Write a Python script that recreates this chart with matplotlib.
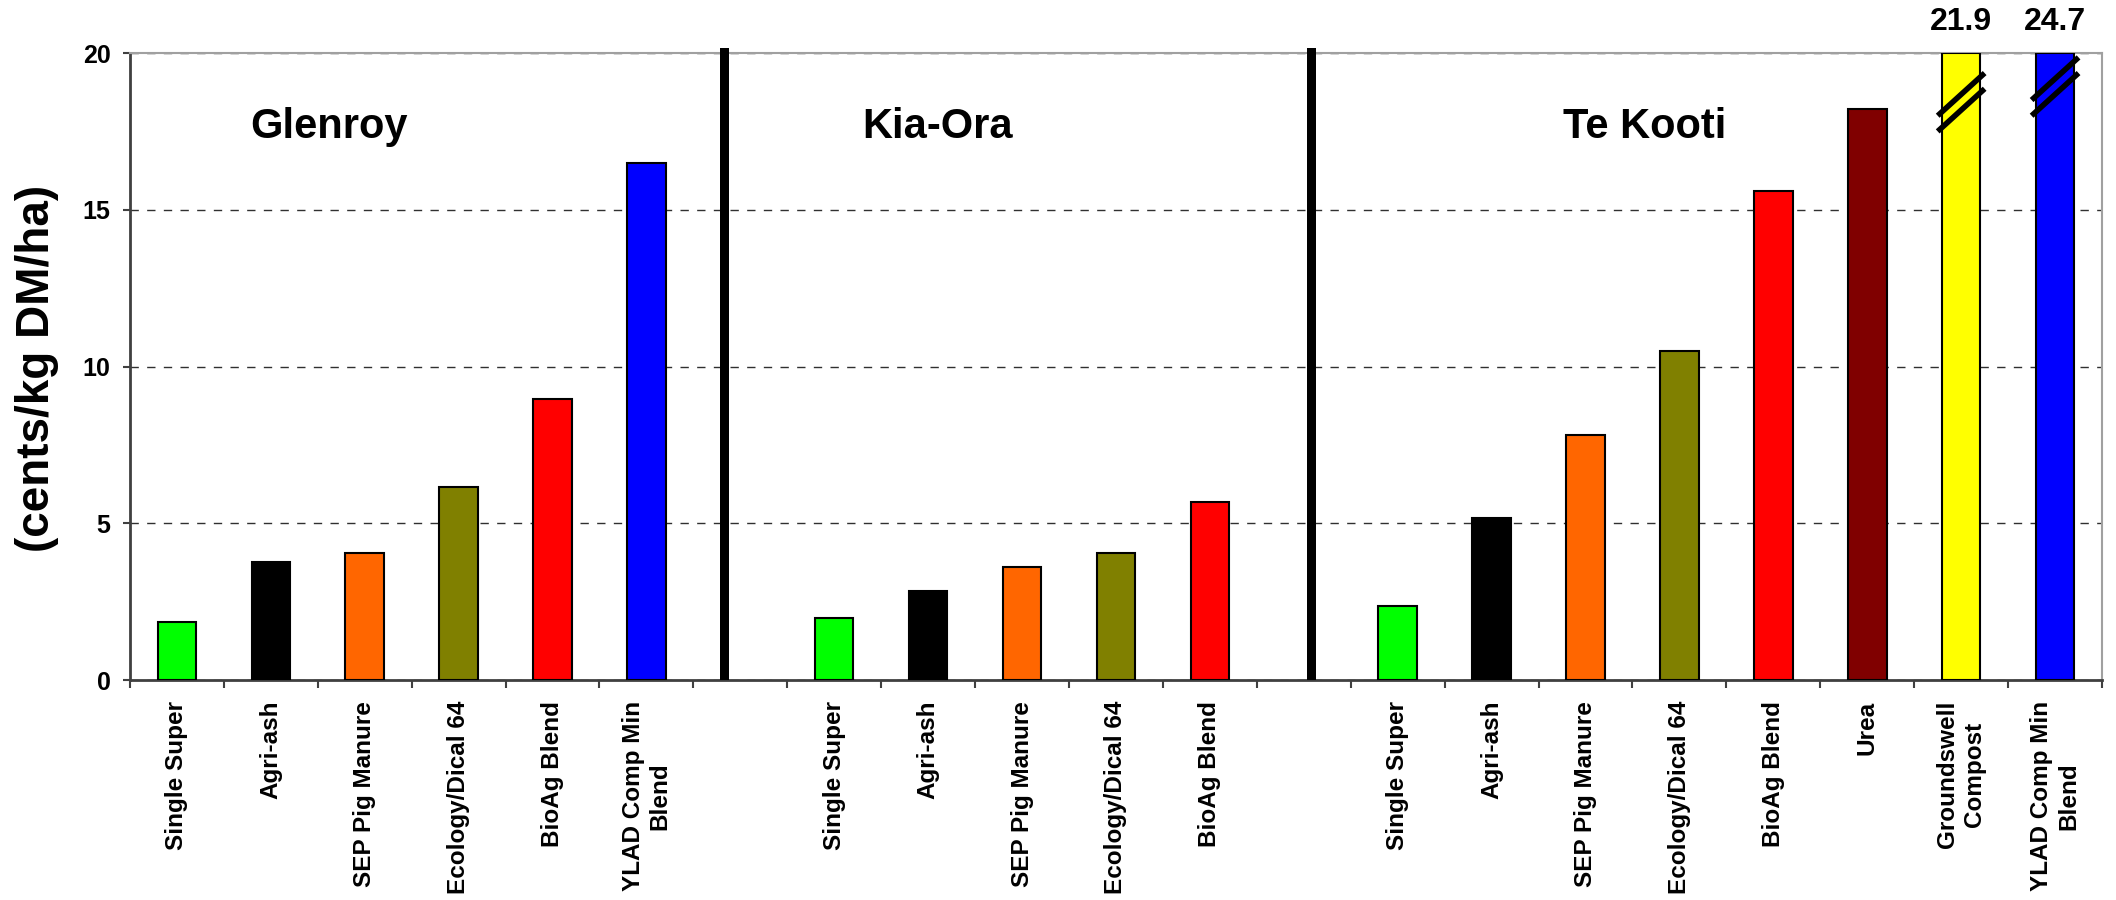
import numpy as np
import matplotlib.pyplot as plt

plt.rcParams['font.family'] = ['Liberation Sans', 'DejaVu Sans']
plt.rcParams['font.weight'] = 'bold'

# cost of dry matter response (cents/kg DM/ha) by site and fertiliser
sites = ['Glenroy', 'Kia-Ora', 'Te Kooti']

glenroy_products = ['Single Super', 'Agri-ash', 'SEP Pig Manure', 'Ecology/Dical 64',
                    'BioAg Blend', 'YLAD Comp Min\nBlend']
glenroy_cost = [1.85, 3.75, 4.05, 6.15, 8.95, 16.5]
glenroy_colours = ['#00FF00', '#000000', '#FF6600', '#808000', '#FF0000', '#0000FF']

kiaora_products = ['Single Super', 'Agri-ash', 'SEP Pig Manure', 'Ecology/Dical 64',
                   'BioAg Blend']
kiaora_cost = [1.98, 2.85, 3.62, 4.05, 5.68]
kiaora_colours = ['#00FF00', '#000000', '#FF6600', '#808000', '#FF0000']

tekooti_products = ['Single Super', 'Agri-ash', 'SEP Pig Manure', 'Ecology/Dical 64',
                    'BioAg Blend', 'Urea', 'Groundswell\nCompost', 'YLAD Comp Min\nBlend']
tekooti_cost = [2.35, 5.18, 7.8, 10.5, 15.6, 18.2, 21.9, 24.7]
tekooti_colours = ['#00FF00', '#000000', '#FF6600', '#808000', '#FF0000', '#800000',
                   '#FFFF00', '#0000FF']

YMAX = 20
title_x = [1.62, 8.1, 15.63]     # where the site names sit
sep_x = [5.83, 12.08]            # thick black dividers between sites
break_levels = [18.0, 18.5]      # where the // marks cross the clipped bars

# lay the three groups out side by side with one empty slot between them
labels, values, colours = [], [], []
groups = [(glenroy_products, glenroy_cost, glenroy_colours),
          (kiaora_products, kiaora_cost, kiaora_colours),
          (tekooti_products, tekooti_cost, tekooti_colours)]
for i, (p, v, c) in enumerate(groups):
    labels += p
    values += v
    colours += c
    if i < len(groups) - 1:
        labels.append('')
        values.append(np.nan)
        colours.append('none')
x = np.arange(len(labels))
values = np.array(values)

fig = plt.figure(figsize=(21.16, 9), dpi=100)
ax = fig.add_axes([0.0614, 0.2444, 0.932, 0.6967])

ax.set_axisbelow(True)
ax.yaxis.grid(True, linestyle=(0, (6, 6)), color='#303030', linewidth=1)

ax.bar(x, np.minimum(values, YMAX), width=0.41, color=colours, edgecolor='black', linewidth=1.5, zorder=3)

# dividers
ax.bar(sep_x, [YMAX + 0.15] * len(sep_x), width=0.09, color='black', clip_on=False, zorder=3)

# clipped bars: value above and a break mark
over = np.where(values > YMAX)[0]
for k, idx in enumerate(over):
    ax.text(x[idx], 21.0, f'{values[idx]:.1f}', ha='center', va='center', fontsize=23,
            clip_on=False)
    b = break_levels[k]
    for off in (0, -0.5):
        ax.plot([x[idx] - 0.25, x[idx] + 0.25], [b + off, b + off + 1.36], color='black',
                linewidth=4, solid_capstyle='butt', zorder=4, clip_on=False)

for name, tx in zip(sites, title_x):
    ax.text(tx, 17.65, name, ha='center', va='center', fontsize=30)

ax.set_xlim(-0.5, len(labels) - 0.5)
ax.set_ylim(0, YMAX)
ax.set_yticks([0, 5, 10, 15, 20])
ax.set_xticks(x)
ax.set_xticklabels(labels, rotation=90, fontsize=17.5, va='top', ha='center',
                   multialignment='center')
ax.set_xticks(np.arange(-0.5, len(labels)), minor=True)
ax.tick_params(axis='x', which='major', length=0, pad=15)
ax.tick_params(axis='x', which='minor', length=6, width=1.5, color='#404040')
ax.tick_params(axis='y', length=5, width=1.5, color='#404040', pad=9, labelsize=18)

for s in ['left', 'bottom']:
    ax.spines[s].set_color('#404040')
    ax.spines[s].set_linewidth(2)
for s in ['top', 'right']:
    ax.spines[s].set_color('#A0A0A0')
    ax.spines[s].set_linewidth(1.5)

fig.text(0.0175, 0.591, '(cents/kg DM/ha)', rotation=90, ha='center', va='center',
         fontsize=33)

fig.savefig('out.png', dpi=100)
